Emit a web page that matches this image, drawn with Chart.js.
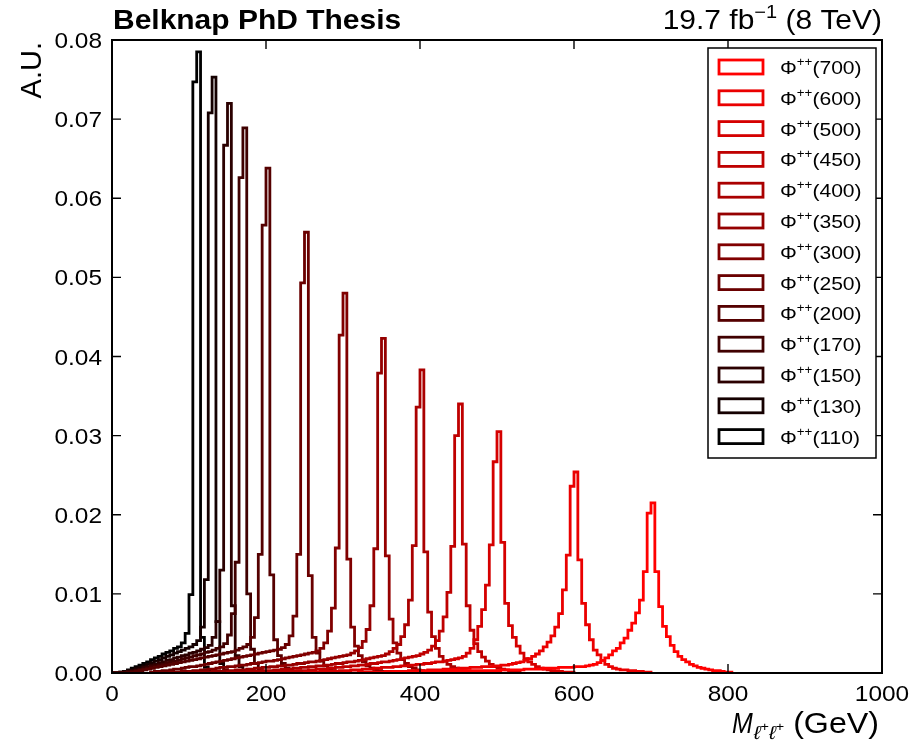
<!DOCTYPE html>
<html>
<head>
<meta charset="utf-8">
<script src="https://cdn.jsdelivr.net/npm/chart.js@4.4.1/dist/chart.umd.min.js"></script>
<style>
  html, body { margin: 0; padding: 0; background: #fff; }
  #c { display: block; }
</style>
</head>
<body>
<canvas id="c" width="912" height="742"></canvas>
<script>
// bin width in GeV, every histogram uses the same binning
const binWidth = 5;

const masses = [700, 600, 500, 450, 400, 350, 300, 250, 200, 170, 150, 130, 110];
// lower edge of the first listed bin, per mass (same order as masses)
const firstEdge = [350, 300, 250, 200, 150, 100, 50, 50, 0, 0, 0, 0, 0];

// bin contents (A.U.), 10 bins = 50 GeV per line
const m700 = [
  0, 0, 0, .0001, .0001, .0001, .0001, .0001, .0001, .0001,
  .0002, .0002, .0002, .0002, .0002, .0002, .0003, .0003, .0003, .0003,
  .0003, .0003, .0003, .0003, .0003, .0003, .0003, .0003, .0003, .0003,
  .0003, .0004, .0004, .0004, .0004, .0004, .0004, .0005, .0005, .0005,
  .0005, .0005, .0006, .0006, .0006, .0006, .0007, .0007, .0007, .0007,
  .0008, .0008, .0008, .0009, .0010, .0011, .0013, .0016, .0019, .0023,
  .0028, .0031, .0038, .0044, .0054, .0063, .0076, .0092, .0128, .0202,
  .0215, .0128, .0084, .0059, .0046, .0035, .0027, .0021, .0017, .0014,
  .0011, .0009, .0007, .0006, .0005, .0004, .0003, .0003, .0002, .0001,
  .0001
];
const m600 = [
  0, 0, 0, 0, .0001, .0001, .0001, .0001, .0001, .0001,
  .0001, .0002, .0002, .0002, .0002, .0002, .0002, .0003, .0003, .0003,
  .0003, .0003, .0004, .0004, .0004, .0004, .0005, .0005, .0005, .0005,
  .0006, .0006, .0006, .0007, .0007, .0007, .0008, .0008, .0008, .0009,
  .0009, .0010, .0010, .0011, .0012, .0013, .0014, .0016, .0018, .0021,
  .0024, .0028, .0033, .0039, .0047, .0058, .0075, .0105, .0149, .0236,
  .0254, .0143, .0088, .0061, .0042, .0029, .0023, .0016, .0011, .0008,
  .0006, .0005, .0004, .0004, .0003, .0003, .0002, .0002, .0001, .0001
];
const m500 = [
  .0001, .0001, .0001, .0001, .0002, .0002, .0002, .0002, .0002, .0003,
  .0003, .0003, .0004, .0004, .0004, .0005, .0005, .0005, .0006, .0006,
  .0007, .0007, .0007, .0008, .0008, .0009, .0009, .0010, .0010, .0011,
  .0011, .0012, .0012, .0013, .0014, .0014, .0015, .0016, .0017, .0018,
  .0019, .0021, .0025, .0031, .0042, .0059, .0080, .0111, .0162, .0267,
  .0305, .0165, .0088, .0060, .0045, .0034, .0025, .0018, .0014, .0011,
  .0008, .0006, .0005, .0004, .0003, .0002, .0002, .0001, .0001, .0001
];
const m450 = [
  .0001, .0001, .0001, .0001, .0002, .0002, .0002, .0002, .0003, .0003,
  .0003, .0004, .0004, .0005, .0005, .0005, .0006, .0006, .0007, .0007,
  .0008, .0008, .0009, .0009, .0010, .0010, .0011, .0012, .0012, .0013,
  .0014, .0014, .0015, .0016, .0017, .0018, .0019, .0020, .0021, .0022,
  .0024, .0026, .0029, .0034, .0041, .0053, .0071, .0102, .0160, .0300,
  .0340, .0163, .0085, .0054, .0037, .0027, .0020, .0015, .0011, .0008,
  .0006, .0005, .0004, .0003, .0002, .0001
];
const m400 = [
  .0001, .0001, .0001, .0001, .0001, .0002, .0002, .0002, .0002, .0003,
  .0003, .0003, .0004, .0004, .0005, .0005, .0005, .0006, .0006, .0007,
  .0007, .0008, .0008, .0009, .0009, .0010, .0010, .0011, .0012, .0012,
  .0013, .0014, .0014, .0015, .0016, .0017, .0018, .0019, .0020, .0021,
  .0022, .0024, .0027, .0031, .0036, .0046, .0061, .0092, .0161, .0336,
  .0383, .0153, .0077, .0046, .0031, .0021, .0015, .0011, .0008, .0006,
  .0004, .0003, .0002, .0001
];
const m350 = [
  .0001, .0001, .0001, .0001, .0001, .0001, .0002, .0002, .0002, .0003,
  .0003, .0003, .0004, .0004, .0004, .0005, .0005, .0006, .0006, .0007,
  .0007, .0008, .0008, .0009, .0009, .0010, .0010, .0011, .0012, .0012,
  .0013, .0014, .0014, .0015, .0016, .0017, .0018, .0019, .0020, .0021,
  .0022, .0023, .0025, .0028, .0032, .0040, .0055, .0085, .0157, .0379,
  .0423, .0148, .0068, .0038, .0025, .0017, .0012, .0008, .0006, .0004,
  .0003, .0002, .0001
];
const m300 = [
  0, 0, 0, 0, 0, .0001, .0001, .0001, .0002, .0002,
  .0002, .0003, .0003, .0004, .0004, .0005, .0005, .0006, .0007, .0007,
  .0008, .0008, .0009, .0010, .0010, .0011, .0012, .0012, .0013, .0014,
  .0015, .0015, .0016, .0017, .0018, .0019, .0020, .0021, .0022, .0023,
  .0024, .0025, .0026, .0028, .0031, .0038, .0053, .0082, .0158, .0427,
  .0480, .0144, .0058, .0034, .0022, .0014, .0009, .0006, .0004, .0003,
  .0002, .0001
];
const m250 = [
  .0001, .0002, .0002, .0003, .0003, .0004, .0005, .0005, .0006, .0007,
  .0008, .0008, .0009, .0010, .0011, .0012, .0013, .0014, .0015, .0016,
  .0017, .0018, .0019, .0020, .0021, .0022, .0023, .0024, .0025, .0026,
  .0027, .0028, .0029, .0030, .0032, .0036, .0047, .0072, .0150, .0493,
  .0557, .0123, .0045, .0025, .0015, .0009, .0005, .0003, .0002, .0001
];
const m200 = [
  0, 0, 0, 0, 0, .0001, .0002, .0003, .0004, .0005,
  .0006, .0007, .0008, .0009, .0010, .0011, .0012, .0013, .0014, .0015,
  .0016, .0017, .0018, .0019, .0020, .0021, .0022, .0023, .0024, .0025,
  .0026, .0027, .0029, .0031, .0033, .0036, .0045, .0070, .0150, .0566,
  .0638, .0124, .0042, .0022, .0012, .0006, .0003, .0001
];
const m170 = [
  0, 0, 0, 0, .0001, .0002, .0003, .0004, .0005, .0006,
  .0008, .0009, .0010, .0011, .0013, .0014, .0015, .0016, .0018, .0019,
  .0020, .0022, .0023, .0024, .0026, .0027, .0029, .0031, .0033, .0037,
  .0048, .0075, .0140, .0626, .0689, .0100, .0030, .0012, .0005, .0002,
  .0001
];
const m150 = [
  0, 0, 0, .0001, .0002, .0003, .0004, .0005, .0007, .0008,
  .0010, .0011, .0013, .0014, .0016, .0017, .0019, .0020, .0022, .0023,
  .0025, .0026, .0028, .0030, .0032, .0035, .0045, .0065, .0130, .0667,
  .0720, .0085, .0022, .0008, .0003, .0001
];
const m130 = [
  0, 0, .0001, .0002, .0003, .0004, .0006, .0007, .0009, .0011,
  .0013, .0015, .0017, .0019, .0021, .0023, .0025, .0027, .0029, .0031,
  .0033, .0036, .0041, .0058, .0118, .0708, .0753, .0065, .0012, .0004,
  .0001
];
const m110 = [
  0, 0, .0001, .0002, .0004, .0006, .0008, .0010, .0012, .0014,
  .0017, .0019, .0021, .0024, .0026, .0028, .0031, .0033, .0038, .0050,
  .0099, .0747, .0785, .0045, .0007, .0002, .0001
];

const binContents = [m700, m600, m500, m450, m400, m350, m300, m250, m200, m170, m150, m130, m110];

const xTicks = [0, 200, 400, 600, 800, 1000];
const yTicks = [0, 0.01, 0.02, 0.03, 0.04, 0.05, 0.06, 0.07, 0.08];

// black -> red colour ramp, 700 is pure red
function rampColor(i, n) {
  const r = Math.round(255 * (n - 1 - i) / (n - 1));
  return 'rgb(' + r + ',0,0)';
}

// outline points at bin edges, stepped so each value holds over its bin
function histPoints(vals, edge) {
  const pts = [{x: edge, y: 0}];
  vals.forEach((v, i) => pts.push({x: edge + i * binWidth, y: v}));
  pts.push({x: edge + vals.length * binWidth, y: 0});
  return pts;
}

const datasets = masses.map((m, i) => ({
  label: '(' + m + ')',
  data: histPoints(binContents[i], firstEdge[i]),
  borderColor: rampColor(i, masses.length),
  backgroundColor: rampColor(i, masses.length),
  borderWidth: 2.8,
  stepped: 'before',
  pointRadius: 0,
  fill: false,
  tension: 0,
}));

const FONT = "'Liberation Sans', Arial, Helvetica, sans-serif";
// the reference text runs a bit wide, so glyphs get a small horizontal stretch
const SX = 1.11;

function txt(ctx, s, x, y, font, align, sx) {
  sx = sx || SX;
  ctx.font = font;
  const w = ctx.measureText(s).width * sx;
  const x0 = align === 'right' ? x - w : align === 'center' ? x - w / 2 : x;
  ctx.save();
  ctx.translate(x0, y);
  ctx.scale(sx, 1);
  ctx.textAlign = 'left';
  ctx.fillText(s, 0, 0);
  ctx.restore();
  return w;
}

const decor = {
  id: 'decor',
  afterDatasetsDraw(chart) {
    const {ctx, chartArea: a, scales} = chart;
    const tl = 9;
    ctx.save();
    ctx.strokeStyle = '#000';
    ctx.lineWidth = 1.4;
    ctx.beginPath();
    xTicks.forEach(v => {
      const px = scales.x.getPixelForValue(v);
      ctx.moveTo(px, a.bottom); ctx.lineTo(px, a.bottom - tl);
      ctx.moveTo(px, a.top); ctx.lineTo(px, a.top + tl);
    });
    yTicks.forEach(v => {
      const py = scales.y.getPixelForValue(v);
      ctx.moveTo(a.left, py); ctx.lineTo(a.left + tl, py);
      ctx.moveTo(a.right, py); ctx.lineTo(a.right - tl, py);
    });
    ctx.stroke();
    ctx.lineWidth = 2;
    ctx.strokeRect(a.left, a.top, a.right - a.left, a.bottom - a.top);
    ctx.restore();
  },
  afterDraw(chart) {
    const {ctx, chartArea: a, scales} = chart;
    ctx.save();
    ctx.fillStyle = '#000';
    ctx.textBaseline = 'alphabetic';

    // tick labels
    xTicks.forEach(v => {
      txt(ctx, String(v), scales.x.getPixelForValue(v), a.bottom + 28, '22px ' + FONT, 'center');
    });
    yTicks.forEach(v => {
      txt(ctx, v.toFixed(2), a.left - 10, scales.y.getPixelForValue(v) + 8, '22px ' + FONT, 'right');
    });

    // header texts
    txt(ctx, 'Belknap PhD Thesis', a.left + 1, 29, 'bold 27px ' + FONT, 'left');
    const w1 = txt(ctx, ' (8 TeV)', a.right, 29, '27px ' + FONT, 'right');
    const w2 = txt(ctx, '\u22121', a.right - w1, 18, '18px ' + FONT, 'right');
    txt(ctx, '19.7 fb', a.right - w1 - w2, 29, '27px ' + FONT, 'right');

    // y title
    ctx.save();
    ctx.translate(41, a.top + 2);
    ctx.rotate(-Math.PI / 2);
    ctx.font = '29px ' + FONT;
    ctx.textAlign = 'right';
    ctx.fillText('A.U.', 0, 0);
    ctx.restore();

    // x title: M with l+ l+ subscript, then (GeV)
    let xr = a.right - 3;
    xr -= txt(ctx, ' (GeV)', xr, 733, '29px ' + FONT, 'right');
    xr -= txt(ctx, '+', xr, 731, '13px ' + FONT, 'right');
    xr -= txt(ctx, '\u2113', xr, 739, 'italic 19px ' + FONT, 'right');
    xr -= txt(ctx, '+', xr, 731, '13px ' + FONT, 'right');
    xr -= txt(ctx, '\u2113', xr, 739, 'italic 19px ' + FONT, 'right');
    txt(ctx, 'M', xr - 1, 733, 'italic 29px ' + FONT, 'right', 0.86);

    // legend box
    const bx = 708, by = 48, bw = 168, bh = 410;
    ctx.fillStyle = '#fff';
    ctx.fillRect(bx, by, bw, bh);
    ctx.strokeStyle = '#000';
    ctx.lineWidth = 1.5;
    ctx.strokeRect(bx, by, bw, bh);
    const rowH = 30.8;
    chart.data.datasets.forEach((ds, i) => {
      const cy = by + 19 + i * rowH;
      ctx.strokeStyle = ds.borderColor;
      ctx.lineWidth = 2.8;
      ctx.strokeRect(bx + 11, cy - 7, 44, 14);
      ctx.fillStyle = '#000';
      let tx = bx + 72;
      tx += txt(ctx, '\u03a6', tx, cy + 7, '19px ' + FONT, 'left');
      tx += txt(ctx, '++', tx, cy - 1, '12px ' + FONT, 'left');
      txt(ctx, ds.label, tx, cy + 7, '19px ' + FONT, 'left');
    });
    ctx.restore();
  }
};

Chart.defaults.font.family = FONT;
Chart.defaults.color = '#000';

new Chart(document.getElementById('c'), {
  type: 'line',
  data: { datasets: datasets },
  options: {
    responsive: false,
    animation: false,
    layout: { padding: { top: 40, right: 30, left: 0, bottom: 0 } },
    plugins: { legend: { display: false }, tooltip: { enabled: false } },
    scales: {
      x: {
        type: 'linear',
        min: 0, max: 1000,
        grid: { display: false, drawTicks: false },
        border: { display: false },
        ticks: { display: false },
        afterFit: s => { s.height = 69; }
      },
      y: {
        type: 'linear',
        min: 0, max: 0.08,
        grid: { display: false, drawTicks: false },
        border: { display: false },
        ticks: { display: false },
        afterFit: s => { s.width = 112; }
      }
    }
  },
  plugins: [decor]
});
</script>
</body>
</html>
